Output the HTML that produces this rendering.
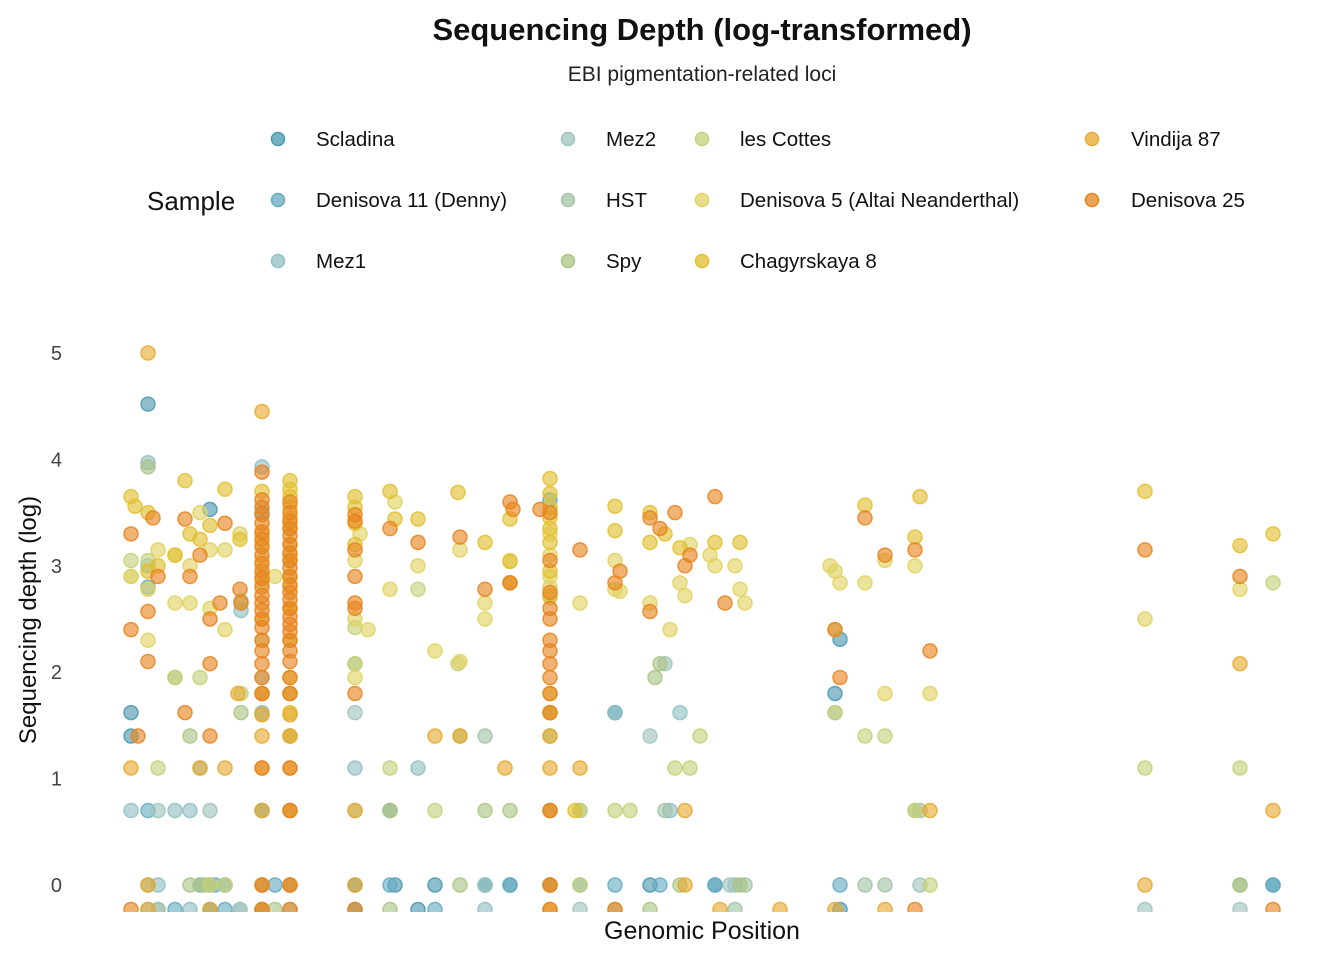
<!DOCTYPE html>
<html><head><meta charset="utf-8"><style>
html,body{margin:0;padding:0;background:#fff;}
svg text{font-family:"Liberation Sans",sans-serif;}
</style></head><body>
<svg id="chart" width="1344" height="960" viewBox="0 0 1344 960">
<text x="702" y="40" text-anchor="middle" font-size="31" font-weight="bold" fill="#111">Sequencing Depth (log-transformed)</text>
<text x="702" y="81" text-anchor="middle" font-size="21" fill="#222">EBI pigmentation-related loci</text>
<text x="147" y="210" font-size="26" fill="#111">Sample</text>
<g id="legend"></g>
<g id="yaxis"></g>
<text transform="translate(36,620) rotate(-90)" text-anchor="middle" font-size="24" fill="#111">Sequencing depth (log)</text>
<text x="702" y="939" text-anchor="middle" font-size="25" fill="#111">Genomic Position</text>
<defs><clipPath id="pc"><rect x="100" y="300" width="1240" height="612"/></clipPath></defs>
<g id="points" clip-path="url(#pc)"></g>
</svg>
<script>
const sampleNames = ["Scladina","Denisova 11 (Denny)","Mez1","Mez2","HST","Spy","les Cottes","Denisova 5 (Altai Neanderthal)","Chagyrskaya 8","Vindija 87","Denisova 25"];
const sampleColors = ["#4a98b0","#66abc2","#90bec4","#a0c4bd","#a2c3a6","#aac483","#c6d07a","#e0d260","#e2bf2e","#e6a92e","#e6841e"];
const yTicks = [0,1,2,3,4,5];
const B = -0.23;
const s0 = [[0,1.62],[0,1.4],[17,4.52],[79,3.53],[131,0.7],[131,B],[224,0],[224,B],[304,0],[354,0],[379,0],[419,0],[484,1.62],[519,0],[584,0],[704,1.8],[709,2.31],[709,B],[1142,0],[79,B],[287,B],[94,0],[264,0]];
const s1 = [[17,0.7],[17,2.8],[69,0],[79,0],[131,0],[131,3.5],[159,0],[259,0],[354,0],[379,0],[419,3.62],[449,0],[484,0],[529,0],[584,0],[709,0],[1142,0],[44,B],[94,B],[304,B],[84,0],[144,0]];
const s2 = [[0,0.7],[17,3.0],[17,3.97],[44,0.7],[59,0.7],[69,1.1],[110,2.58],[131,3.93],[131,1.62],[159,1.4],[224,1.1],[259,0.7],[287,1.1],[419,1.62],[449,0.7],[484,1.62],[539,0.7],[549,1.62],[604,0],[17,0],[27,0],[59,B],[354,B],[17,B],[109,B]];
const s3 = [[27,0.7],[79,0.7],[69,0],[94,0],[131,1.95],[131,0.7],[159,0],[224,1.62],[354,0],[419,0],[519,1.4],[534,2.08],[599,0],[789,0],[1109,B],[1014,B],[109,B],[449,B],[27,B],[159,B]];
const s4 = [[69,0],[131,1.61],[224,0.7],[259,0.7],[354,1.4],[419,0.7],[534,0.7],[614,0],[704,1.62],[734,0],[754,0],[789,0.7],[1109,0],[27,B],[224,B],[484,B],[604,B]];
const s5 = [[17,3.93],[44,1.95],[59,1.4],[59,0],[79,0],[110,1.62],[110,2.67],[131,1.8],[159,0.7],[224,2.08],[259,0.7],[329,1.4],[354,0.7],[379,0.7],[419,1.4],[524,1.95],[529,2.08],[549,0],[609,0],[784,0.7],[1109,0],[144,B],[259,B],[519,B],[329,0],[74,0]];
const s6 = [[0,3.05],[0,2.9],[17,3.05],[27,1.1],[44,1.95],[69,1.95],[79,0],[94,0],[110,1.8],[131,2.3],[159,1.8],[224,2.42],[224,2.08],[259,1.1],[287,2.78],[304,0.7],[327,2.08],[419,2.7],[419,1.62],[449,0.7],[484,0.7],[499,0.7],[544,1.1],[559,1.1],[569,1.4],[704,2.4],[704,1.62],[734,1.4],[754,1.4],[784,0.7],[799,0],[1014,1.1],[1109,1.1],[1142,2.84],[449,0]];
const s7 = [[0,2.9],[17,2.3],[17,2.78],[27,3.15],[44,2.65],[44,3.1],[59,2.65],[59,3.0],[69,3.5],[79,2.6],[79,3.15],[94,2.4],[94,3.15],[109,3.3],[131,2.84],[131,3.05],[144,2.9],[159,3.4],[159,2.6],[224,3.05],[224,2.5],[224,1.95],[229,3.3],[237,2.4],[259,2.78],[264,3.6],[287,3.0],[304,2.2],[329,3.15],[329,2.1],[354,2.5],[354,2.65],[379,2.84],[379,3.05],[419,3.3],[419,2.9],[449,2.65],[484,3.05],[484,2.78],[489,2.76],[519,2.65],[539,2.4],[549,2.84],[554,2.72],[559,3.2],[579,3.1],[584,3.0],[604,3.0],[609,2.78],[614,2.65],[699,3.0],[704,2.95],[709,2.84],[734,2.84],[754,3.05],[754,1.8],[784,3.0],[799,1.8],[1014,2.5],[1109,2.78],[159,3.1],[159,2.8],[131,3.2],[419,3.1],[419,2.8]];
const s8 = [[0,3.65],[4,3.56],[17,3.5],[17,2.95],[27,3.0],[44,3.1],[54,3.8],[59,3.3],[69,3.25],[79,3.38],[94,3.72],[109,3.25],[131,3.7],[131,3.3],[131,2.9],[131,2.5],[159,3.8],[159,3.72],[159,3.65],[159,3.55],[159,3.45],[159,3.35],[159,3.2],[159,3.05],[159,2.9],[159,2.6],[159,2.3],[159,1.62],[224,3.65],[224,3.55],[224,3.4],[224,3.2],[259,3.7],[264,3.44],[287,3.44],[327,3.69],[354,3.22],[379,3.44],[379,3.04],[419,3.82],[419,3.68],[419,3.55],[419,3.45],[419,3.35],[419,3.22],[419,2.95],[419,2.72],[484,3.56],[484,3.33],[519,3.5],[519,3.22],[534,3.3],[549,3.17],[584,3.22],[609,3.22],[734,3.57],[789,3.65],[784,3.27],[1014,3.7],[1109,3.19],[1142,3.3],[444,0.7],[159,1.95],[159,1.4],[419,1.8],[419,1.62]];
const s9 = [[0,1.1],[17,5.0],[17,0],[69,1.1],[94,1.1],[107,1.8],[131,4.45],[131,1.6],[131,1.4],[131,1.1],[131,0.7],[131,0],[131,B],[159,1.4],[159,1.1],[159,0.7],[159,1.6],[159,0],[224,0.7],[224,0],[304,1.4],[329,1.4],[374,1.1],[379,2.84],[419,1.4],[419,1.1],[419,0.7],[419,0],[419,B],[449,1.1],[554,0.7],[554,0],[704,B],[799,0.7],[1014,0],[1142,0.7],[1109,2.08],[17,B],[79,B],[589,B],[649,B],[754,B],[131,1.8],[159,1.8]];
const s10 = [[0,3.3],[0,2.4],[7,1.4],[17,2.57],[17,2.1],[22,3.45],[27,2.9],[54,1.62],[54,3.44],[59,2.9],[69,3.1],[79,2.5],[79,2.08],[79,1.4],[89,2.65],[94,3.4],[109,2.78],[110,2.65],[131,3.88],[131,3.62],[131,3.55],[131,3.48],[131,3.4],[131,3.32],[131,3.25],[131,3.18],[131,3.1],[131,3.02],[131,2.95],[131,2.88],[131,2.8],[131,2.72],[131,2.65],[131,2.58],[131,2.5],[131,2.42],[131,2.3],[131,2.2],[131,2.08],[131,1.95],[131,1.8],[159,3.6],[159,3.5],[159,3.42],[159,3.35],[159,3.28],[159,3.2],[159,3.12],[159,3.05],[159,2.98],[159,2.9],[159,2.82],[159,2.75],[159,2.68],[159,2.6],[159,2.52],[159,2.45],[159,2.38],[159,2.3],[159,2.2],[159,2.1],[159,1.95],[159,1.8],[224,3.42],[224,3.48],[224,3.15],[224,2.9],[224,2.65],[224,2.6],[224,1.8],[259,3.35],[287,3.22],[329,3.27],[354,2.78],[379,3.6],[379,2.84],[382,3.53],[409,3.53],[419,3.5],[419,3.05],[419,2.75],[419,2.6],[419,2.5],[419,2.3],[419,2.2],[419,2.08],[419,1.95],[419,1.8],[419,1.62],[449,3.15],[484,2.84],[489,2.95],[519,2.57],[519,3.45],[529,3.35],[544,3.5],[554,3.0],[559,3.1],[584,3.65],[594,2.65],[704,2.4],[709,1.95],[734,3.45],[754,3.1],[784,3.15],[799,2.2],[1014,3.15],[1109,2.9],[0,B],[131,B],[159,B],[224,B],[419,B],[484,B],[784,B],[1142,B],[159,1.1],[159,0.7],[131,1.1],[419,0.7],[419,0],[131,0],[159,0]];
const seriesData = [s0,s1,s2,s3,s4,s5,s6,s7,s8,s9,s10];
const xDomain = [0,1142], xRange = [131,1273];
const yDomain = [0,5], yRange = [885,353];
function xScale(v){return xRange[0]+(v-xDomain[0])/(xDomain[1]-xDomain[0])*(xRange[1]-xRange[0]);}
function yScale(v){return yRange[0]+(v-yDomain[0])/(yDomain[1]-yDomain[0])*(yRange[1]-yRange[0]);}
const NS="http://www.w3.org/2000/svg";
const yg=document.getElementById('yaxis');
yTicks.forEach(t=>{
  const tx=document.createElementNS(NS,'text');
  
  
  tx.setAttribute('x',62);tx.setAttribute('y',yScale(t)+7);
  tx.setAttribute('text-anchor','end');tx.setAttribute('font-size','20');tx.setAttribute('fill','#444');
  tx.textContent=t;yg.appendChild(tx);
});
const lg=document.getElementById('legend');
const legX=[[278,316],[568,606],[702,740],[1092,1131]];
const legRows=[139,200,261];
const legLayout=[[0,0],[0,1],[0,2],[1,0],[1,1],[1,2],[2,0],[2,1],[2,2],[3,0],[3,1]];
sampleNames.forEach((n,i)=>{
  const [c,r]=legLayout[i];
  const g=document.createElementNS(NS,'g');
  
  
  const ci=document.createElementNS(NS,'circle');
  ci.setAttribute('cx',legX[c][0]);ci.setAttribute('cy',legRows[r]);ci.setAttribute('r',6.5);
  ci.setAttribute('fill',sampleColors[i]);ci.setAttribute('fill-opacity','0.75');ci.setAttribute('stroke',sampleColors[i]);ci.setAttribute('stroke-width','1.5');
  const tx=document.createElementNS(NS,'text');
  tx.setAttribute('x',legX[c][1]);tx.setAttribute('y',legRows[r]+7);tx.setAttribute('font-size','20.5');tx.setAttribute('fill','#111');
  tx.textContent=n;
  g.appendChild(ci);g.appendChild(tx);lg.appendChild(g);
});
const pg=document.getElementById('points');
seriesData.forEach((arr,i)=>{
  arr.forEach(p=>{
    const c=document.createElementNS(NS,'circle');
    
    
    c.setAttribute('cx',xScale(p[0]));c.setAttribute('cy',yScale(p[1]));c.setAttribute('r',7);
    c.setAttribute('fill',sampleColors[i]);c.setAttribute('fill-opacity','0.62');
    c.setAttribute('stroke',sampleColors[i]);c.setAttribute('stroke-opacity','0.85');c.setAttribute('stroke-width','1.5');
    pg.appendChild(c);
  });
});
</script>
</body></html>
